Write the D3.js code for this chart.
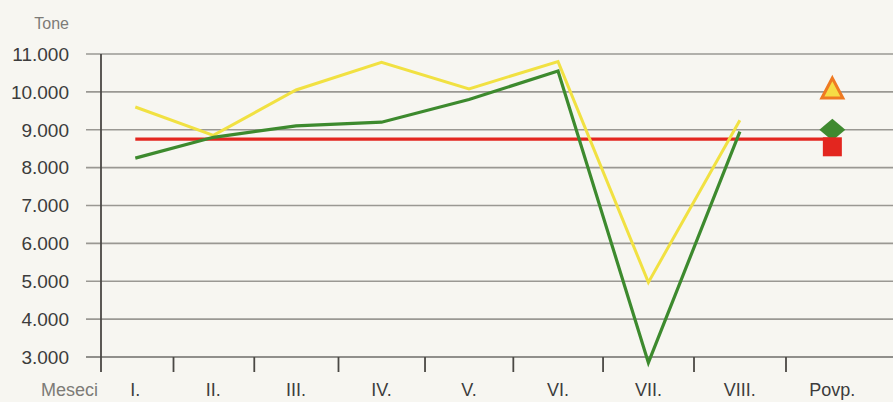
<!DOCTYPE html>
<html>
<head>
<meta charset="utf-8">
<script src="https://cdn.jsdelivr.net/npm/d3@7"></script>
<style>
  body { margin: 0; background: #f7f6f1; }
  svg { display: block; font-family: "Liberation Sans", Arial, sans-serif; }
</style>
</head>
<body>
<svg id="chart" width="893" height="402"></svg>
<script>
// data
const months = ["I.", "II.", "III.", "IV.", "V.", "VI.", "VII.", "VIII."];
const avgLabel = "Povp.";
const yellowSeries = [9600, 8850, 10050, 10780, 10080, 10800, 4970, 9250];
const greenSeries = [8250, 8800, 9100, 9200, 9800, 10550, 2850, 8950];
const redSeries = [8750, 8750, 8750, 8750, 8750, 8750, 8750, 8750, 8750];
const avgYellow = 10100;
const avgGreen = 9000;
const avgRed = 8550;
const yTicks = [3000, 4000, 5000, 6000, 7000, 8000, 9000, 10000, 11000];

const svg = d3.select("svg#chart");
const categories = months.concat([avgLabel]);

// photo is slightly stretched towards the right, so a mild power scale on the slot index
const xs = d3.scalePow().exponent(1.08).domain([0, 8]).range([101, 786]);
const x = i => xs(i + 0.5);
const y = d3.scaleLinear().domain([3000, 11000]).range([357, 54]);
const fmt = v => d3.format(",")(v).replace(/,/g, ".");

// grid
svg.append("g").selectAll("line")
    .data(yTicks)
    .join("line")
    .attr("x1", 86).attr("x2", 893)
    .attr("y1", d => y(d)).attr("y2", d => y(d))
    .attr("stroke", d => d === 3000 ? "#6e6c68" : "#9a9893")
    .attr("stroke-width", 1.6);

svg.append("g").selectAll("text")
    .data(yTicks)
    .join("text")
    .attr("x", 69)
    .attr("y", d => y(d))
    .attr("dy", "0.36em")
    .attr("text-anchor", "end")
    .attr("font-size", 19)
    .attr("fill", "#3c3c3c")
    .text(fmt);

// y axis line
svg.append("line")
    .attr("x1", 101).attr("x2", 101)
    .attr("y1", y(11000)).attr("y2", 372)
    .attr("stroke", "#4a4844").attr("stroke-width", 1.8);

// x ticks between categories
svg.append("g").selectAll("line")
    .data(d3.range(1, 9))
    .join("line")
    .attr("x1", d => xs(d)).attr("x2", d => xs(d))
    .attr("y1", y(3000)).attr("y2", 372)
    .attr("stroke", "#4a4844").attr("stroke-width", 1.8);

svg.append("g").selectAll("text")
    .data(categories)
    .join("text")
    .attr("x", (d, i) => x(i))
    .attr("y", 396)
    .attr("text-anchor", "middle")
    .attr("font-size", 18)
    .attr("fill", "#3c3c3c")
    .text(d => d);

svg.append("text")
    .attr("x", 41).attr("y", 396)
    .attr("font-size", 18)
    .attr("fill", "#7d7b77")
    .text("Meseci");

svg.append("text")
    .attr("x", 69).attr("y", 29)
    .attr("text-anchor", "end")
    .attr("font-size", 16)
    .attr("fill", "#7d7b77")
    .text("Tone");

const line = d3.line().x((d, i) => x(i)).y(d => y(d));

svg.append("path")
    .attr("d", line(redSeries))
    .attr("fill", "none")
    .attr("stroke", "#e3261f")
    .attr("stroke-width", 3.2);

svg.append("path")
    .attr("d", line(yellowSeries))
    .attr("fill", "none")
    .attr("stroke", "#f1e142")
    .attr("stroke-width", 3)
    .attr("stroke-linejoin", "miter");

svg.append("path")
    .attr("d", line(greenSeries))
    .attr("fill", "none")
    .attr("stroke", "#3d8a2e")
    .attr("stroke-width", 3.2)
    .attr("stroke-linejoin", "miter");

// average markers
const px = x(8);
svg.append("path")
    .attr("d", `M${px},${y(avgGreen) - 11}L${px + 13},${y(avgGreen)}L${px},${y(avgGreen) + 11}L${px - 13},${y(avgGreen)}Z`)
    .attr("fill", "#3f8a30");

svg.append("rect")
    .attr("x", px - 9.5).attr("y", y(avgRed) - 9.5)
    .attr("width", 19).attr("height", 19)
    .attr("fill", "#e3261f");

const ty = y(avgYellow);
svg.append("path")
    .attr("d", `M${px},${ty - 10}L${px + 10.5},${ty + 10}L${px - 10.5},${ty + 10}Z`)
    .attr("fill", "#f6dc45")
    .attr("stroke", "#ef7a22")
    .attr("stroke-width", 3)
    .attr("stroke-linejoin", "miter");
</script>
</body>
</html>
